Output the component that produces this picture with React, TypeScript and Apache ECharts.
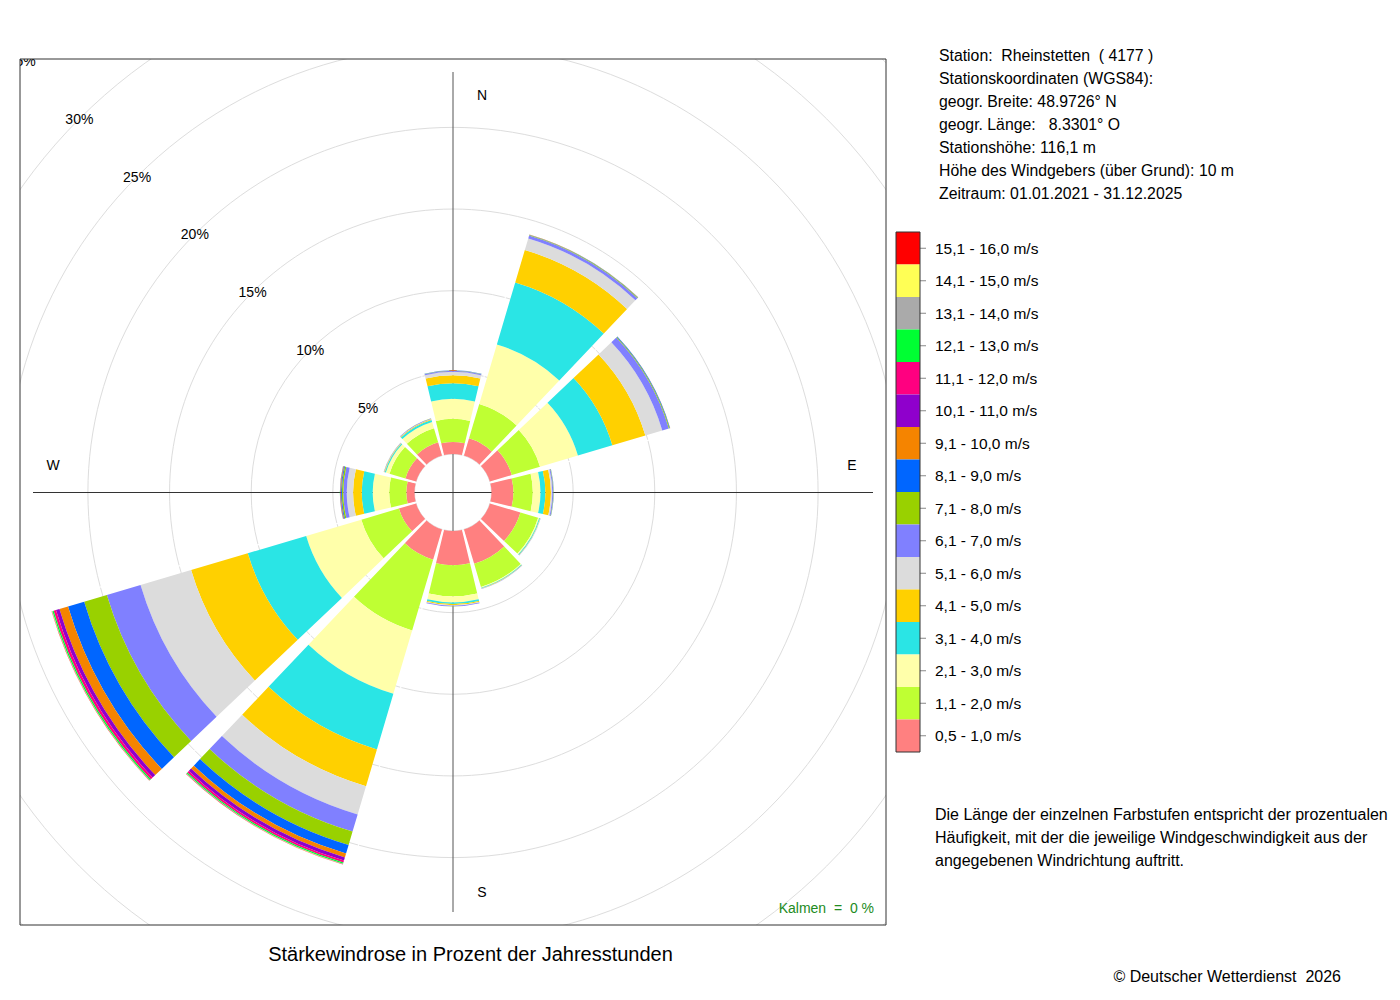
import React, { useEffect, useRef } from 'react';
import * as echarts from 'echarts';

// ---- categories (wind direction sectors, compass degrees) ----
const directions = ['0°', '30°', '60°', '90°', '120°', '150°', '180°', '210°', '240°', '270°', '300°', '330°'];

// ---- speed classes (legend labels) and colours ----
const speedClasses = [
  '0,5 - 1,0 m/s', '1,1 - 2,0 m/s', '2,1 - 3,0 m/s', '3,1 - 4,0 m/s',
  '4,1 - 5,0 m/s', '5,1 - 6,0 m/s', '6,1 - 7,0 m/s', '7,1 - 8,0 m/s',
  '8,1 - 9,0 m/s', '9,1 - 10,0 m/s', '10,1 - 11,0 m/s', '11,1 - 12,0 m/s',
  '12,1 - 13,0 m/s', '13,1 - 14,0 m/s', '14,1 - 15,0 m/s', '15,1 - 16,0 m/s',
];
const classColors = [
  '#FF8080', '#BFFF33', '#FFFFAA', '#2AE5E5', '#FFD000', '#DCDCDC', '#8080FF', '#99D100',
  '#0066FF', '#F58400', '#8F00CC', '#FF0080', '#00FF33', '#AAAAAA', '#FFFF55', '#FF0000',
];

// ---- values (% of annual hours) per speed class, one value per direction ----
const v0510 = [0.74, 1.1, 1.4, 1.34, 1.95, 2.2, 2.1, 1.93, 1.1, 0.5, 0.68, 0.85];
const v1120 = [1.41, 2.2, 1.8, 1.19, 1.13, 1.47, 1.9, 4.52, 2.4, 1.05, 1.02, 0.9];
const v2130 = [1.23, 3.8, 2.42, 0.47, 0.07, 0.05, 0.37, 4.05, 3.52, 1.01, 0.23, 0.4];
const v3140 = [0.95, 3.96, 2.2, 0.3, 0.05, 0.04, 0.1, 3.55, 3.73, 0.67, 0.07, 0.13];
const v4150 = [0.49, 2.07, 2.11, 0.34, 0.02, 0.02, 0.07, 2.35, 3.62, 0.53, 0.03, 0.04];
const v5160 = [0.21, 0.74, 1.08, 0.08, 0.01, 0.01, 0.03, 1.8, 3.23, 0.39, 0.01, 0.02];
const v6170 = [0.06, 0.18, 0.42, 0.06, 0.01, 0.01, 0.04, 1.1, 2.15, 0.21, 0.02, 0.03];
const v7180 = [0.02, 0.04, 0.05, 0.02, 0, 0, 0.01, 0.85, 1.45, 0.09, 0.01, 0.01];
const v8190 = [0.01, 0.02, 0.03, 0.01, 0, 0, 0, 0.55, 1.03, 0.05, 0, 0];
const v91100 = [0, 0.01, 0.01, 0, 0, 0, 0, 0.25, 0.55, 0.03, 0, 0];
const v101110 = [0, 0, 0, 0, 0, 0, 0, 0.2, 0.22, 0.02, 0, 0];
const v111120 = [0, 0, 0, 0, 0, 0, 0, 0.12, 0.15, 0.01, 0, 0];
const v121130 = [0, 0, 0, 0, 0, 0, 0, 0.08, 0.08, 0.01, 0, 0];
const v131140 = [0, 0, 0, 0, 0, 0, 0, 0.03, 0.03, 0, 0, 0];
const v141150 = [0, 0, 0, 0, 0, 0, 0, 0.01, 0.01, 0, 0, 0];
const v151160 = [0, 0, 0, 0, 0, 0, 0, 0.01, 0.01, 0, 0, 0];
const classValues = [v0510, v1120, v2130, v3140, v4150, v5160, v6170, v7180, v8190, v91100, v101110, v111120, v121130, v131140, v141150, v151160];

// ---- radius axis ticks ----
const radiusMax = 35;
const radiusStep = 5;

// ---- texts ----
const stationLines = [
  'Station:  Rheinstetten  ( 4177 )',
  'Stationskoordinaten (WGS84):',
  'geogr. Breite: 48.9726° N',
  'geogr. Länge:   8.3301° O',
  'Stationshöhe: 116,1 m',
  'Höhe des Windgebers (über Grund): 10 m',
  'Zeitraum: 01.01.2021 - 31.12.2025',
];
const noteLines = [
  'Die Länge der einzelnen Farbstufen entspricht der prozentualen',
  'Häufigkeit, mit der die jeweilige Windgeschwindigkeit aus der',
  'angegebenen Windrichtung auftritt.',
];
const compassLabels = [
  { t: 'N', dx: 29, dy: -398 },
  { t: 'E', dx: 399, dy: -28 },
  { t: 'S', dx: 29, dy: 399 },
  { t: 'W', dx: -400, dy: -28 },
];
const titleText = 'Stärkewindrose in Prozent der Jahresstunden';
const calmText = 'Kalmen  =  0 %';
const copyrightText = '© Deutscher Wetterdienst  2026';

// ---- layout ----
const CX = 453;
const CY = 492.5;
const R0 = 38.5;
const PX = 16.33;
const BOX = { x: 20, y: 59, w: 866, h: 866 };
const FONT = '"Liberation Sans", Arial, sans-serif';

function txt(text: string, x: number, y: number, size: number, align = 'left', fill = '#000', z = 60) {
  return {
    type: 'text', x, y, z, silent: true,
    style: {
      text, fill, font: `${size}px ${FONT}`,
      align, textAlign: align, verticalAlign: 'middle', textVerticalAlign: 'middle',
    },
  };
}

function buildOption() {
  const totals = directions.map((_, i) => classValues.reduce((s, arr) => s + arr[i], 0));
  const graphics: any[] = [];

  // compass cross lines (under the bars)
  graphics.push({ type: 'line', z: 1, silent: true, shape: { x1: CX, y1: CY - 420.5, x2: CX, y2: CY + 419.5 }, style: { stroke: '#555', lineWidth: 1 } });
  graphics.push({ type: 'line', z: 1, silent: true, shape: { x1: CX - 420, y1: CY, x2: CX + 420, y2: CY }, style: { stroke: '#333', lineWidth: 1 } });

  // thin white separators between neighbouring sectors
  for (let k = 0; k < directions.length; k++) {
    const a = ((15 + 30 * k) * Math.PI) / 180;
    const tot = Math.max(totals[k], totals[(k + 1) % directions.length]);
    const r1 = R0 - 2;
    const r2 = R0 + tot * PX + 3;
    graphics.push({
      type: 'line', z: 5, silent: true,
      shape: { x1: CX + r1 * Math.sin(a), y1: CY - r1 * Math.cos(a), x2: CX + r2 * Math.sin(a), y2: CY - r2 * Math.cos(a) },
      style: { stroke: '#fff', lineWidth: 1.2 },
    });
  }

  // masks outside the plotting box
  const mask = (x: number, y: number, w: number, h: number) => ({ type: 'rect', z: 50, silent: true, shape: { x, y, width: w, height: h }, style: { fill: '#fff' } });
  graphics.push(mask(0, 0, 1400, BOX.y));
  graphics.push(mask(0, BOX.y + BOX.h, 1400, 1000 - BOX.y - BOX.h));
  graphics.push(mask(0, 0, BOX.x, 1000));
  graphics.push(mask(BOX.x + BOX.w, 0, 1400 - BOX.x - BOX.w, 1000));
  graphics.push({ type: 'rect', z: 51, silent: true, shape: { x: BOX.x, y: BOX.y, width: BOX.w, height: BOX.h }, style: { fill: 'none', stroke: '#333', lineWidth: 1 } });

  // compass letters
  compassLabels.forEach((c) => graphics.push(txt(c.t, CX + c.dx, CY + c.dy, 14, 'center', '#000', 52)));

  // calm
  graphics.push(txt(calmText, 874, 908, 14, 'right', '#228B22', 52));
  // title
  graphics.push(txt(titleText, 470.5, 954, 20, 'center', '#000', 60));
  // station info
  stationLines.forEach((l, i) => graphics.push(txt(l, 939, 55 + i * 23.15, 15.8)));
  // note
  noteLines.forEach((l, i) => graphics.push(txt(l, 935, 814 + i * 23, 16)));
  // copyright
  graphics.push(txt(copyrightText, 1341, 976, 16, 'right'));

  // colour legend
  const LX = 896, LY = 232, LW = 24, LH = 32.5;
  const n = speedClasses.length;
  for (let i = 0; i < n; i++) {
    const ci = n - 1 - i;
    const y = LY + i * LH;
    graphics.push({ type: 'rect', z: 60, silent: true, shape: { x: LX, y, width: LW, height: LH }, style: { fill: classColors[ci] } });
    graphics.push({ type: 'line', z: 61, silent: true, shape: { x1: LX + LW, y1: y + LH / 2, x2: LX + LW + 6, y2: y + LH / 2 }, style: { stroke: '#888', lineWidth: 1 } });
    graphics.push(txt(speedClasses[ci], 935, y + LH / 2, 15.5));
  }
  graphics.push({ type: 'rect', z: 61, silent: true, shape: { x: LX, y: LY, width: LW, height: LH * n }, style: { fill: 'none', stroke: '#333', lineWidth: 1 } });

  const polarRadius = [R0, R0 + radiusMax * PX];

  return {
    animation: false,
    backgroundColor: '#fff',
    polar: [
      { center: [CX, CY], radius: polarRadius },
      { center: [CX, CY], radius: polarRadius },
    ],
    angleAxis: [
      {
        polarIndex: 0, type: 'category', data: directions, startAngle: 105, clockwise: true,
        boundaryGap: true,
        axisLine: { show: false }, axisTick: { show: false }, axisLabel: { show: false }, splitLine: { show: false },
      },
      {
        polarIndex: 1, type: 'value', min: 0, max: 360, startAngle: 135,
        axisLine: { show: false }, axisTick: { show: false }, axisLabel: { show: false }, splitLine: { show: false },
      },
    ],
    radiusAxis: [
      {
        polarIndex: 0, type: 'value', min: 0, max: radiusMax, interval: radiusStep,
        axisLine: { show: false }, axisTick: { show: false }, axisLabel: { show: false },
        splitLine: { show: true, lineStyle: { color: '#DDDDDD', width: 1 } },
      },
      {
        polarIndex: 1, type: 'value', min: 0, max: radiusMax, interval: radiusStep,
        axisLine: { show: false }, axisTick: { show: false }, splitLine: { show: false },
        axisLabel: {
          show: true, margin: 0, align: 'center', verticalAlign: 'middle',
          color: '#000', fontSize: 14, fontFamily: FONT,
          formatter: (v: number) => (v === 0 ? '' : `${v}%`),
        },
      },
    ],
    series: classValues.map((vals, i) => ({
      type: 'bar',
      name: speedClasses[i],
      coordinateSystem: 'polar',
      polarIndex: 0,
      stack: 'wind',
      data: vals,
      barCategoryGap: '10%',
      itemStyle: { color: classColors[i] },
      emphasis: { disabled: true },
      z: 2,
    })),
    graphic: { elements: graphics },
  };
}

export default function App() {
  const ref = useRef<HTMLDivElement>(null);
  useEffect(() => {
    if (!ref.current) return;
    const chart = echarts.init(ref.current, null, { renderer: 'svg' });
    chart.setOption(buildOption() as any);
    return () => chart.dispose();
  }, []);
  return <div ref={ref} style={{ position: 'absolute', left: 0, top: 0, width: 1400, height: 1000, background: '#fff' }} />;
}
